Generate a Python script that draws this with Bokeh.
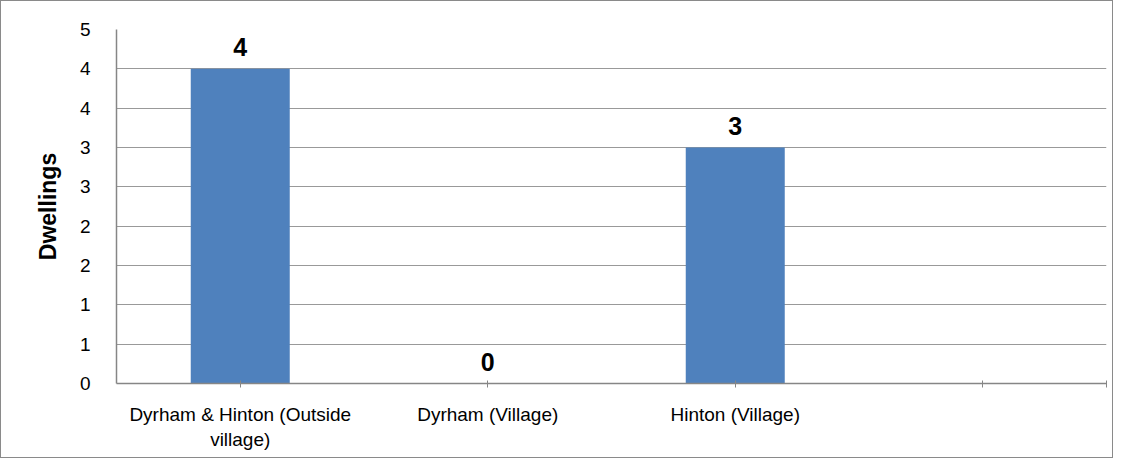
from bokeh.plotting import figure
from bokeh.models import FixedTicker, Range1d, ColumnDataSource
from bokeh.core.properties import value
from bokeh.embed import file_html
from bokeh.resources import INLINE

categories = ["Dyrham & Hinton (Outside\nvillage)", "Dyrham (Village)", "Hinton (Village)", ""]
dwellings = [4, 0, 3, None]
y_ticks = [0, 0.5, 1, 1.5, 2, 2.5, 3, 3.5, 4, 4.5]
y_tick_labels = ["0", "1", "1", "2", "2", "3", "3", "4", "4", "5"]

n = len(categories)
centers = [i + 0.5 for i in range(n)]
bar_x = [c for c, v in zip(centers, dwellings) if v is not None]
bar_v = [v for v in dwellings if v is not None]

p = figure(frame_width=990, frame_height=354, output_backend="svg", toolbar_location=None,
           x_range=Range1d(0, n), y_range=Range1d(0, 4.5),
           min_border_left=115, min_border_right=6, min_border_top=28, min_border_bottom=74)
p.styles = {"border": "1px solid #8a8a8a"}
p.outline_line_color = None
p.background_fill_color = "white"
p.border_fill_color = "white"

src = ColumnDataSource(dict(x=bar_x, v=bar_v, t=[str(v) for v in bar_v]))
p.vbar(x="x", top="v", width=0.4, bottom=0, source=src, fill_color="#4f81bd", line_color=None)
p.text(x="x", y="v", text="t", source=src, text_align="center", text_baseline="bottom",
       y_offset=-13, text_font=value("Liberation Sans"), text_font_style="bold",
       text_font_size="25px", text_color="black")

# y axis
p.yaxis.ticker = FixedTicker(ticks=y_ticks)
p.yaxis.major_label_overrides = {t: l for t, l in zip(y_ticks, y_tick_labels)}
p.yaxis.major_tick_line_color = None
p.yaxis.minor_tick_line_color = None
p.yaxis.axis_line_color = "#868686"
p.yaxis.axis_line_width = 1.5
p.yaxis.major_label_text_font = "Liberation Sans"
p.yaxis.major_label_text_font_size = "19px"
p.yaxis.major_label_text_color = "black"
p.yaxis.major_label_standoff = 20
p.yaxis.axis_label = "Dwellings"
p.yaxis.axis_label_text_font = "Liberation Sans"
p.yaxis.axis_label_text_font_style = "bold"
p.yaxis.axis_label_text_font_size = "23px"
p.yaxis.axis_label_text_color = "black"
p.yaxis.axis_label_standoff = 16

# x axis
x_ticks = centers + [n]
p.xaxis.ticker = FixedTicker(ticks=x_ticks)
overrides = {c: lab for c, lab in zip(centers, categories)}
overrides[n] = ""
p.xaxis.major_label_overrides = overrides
p.xaxis.minor_tick_line_color = None
p.xaxis.major_tick_in = 3
p.xaxis.major_tick_out = 4
p.xaxis.major_tick_line_color = "#868686"
p.xaxis.axis_line_color = "#868686"
p.xaxis.axis_line_width = 1.5
p.xaxis.major_label_text_font = "Liberation Sans"
p.xaxis.major_label_text_font_size = "19px"
p.xaxis.major_label_text_color = "black"
p.xaxis.major_label_standoff = 16

p.xgrid.grid_line_color = None
p.ygrid.ticker = FixedTicker(ticks=y_ticks)
p.ygrid.grid_line_color = "#999999"
p.ygrid.grid_line_width = 1.2

open("out.html", "w").write(file_html(p, INLINE))
